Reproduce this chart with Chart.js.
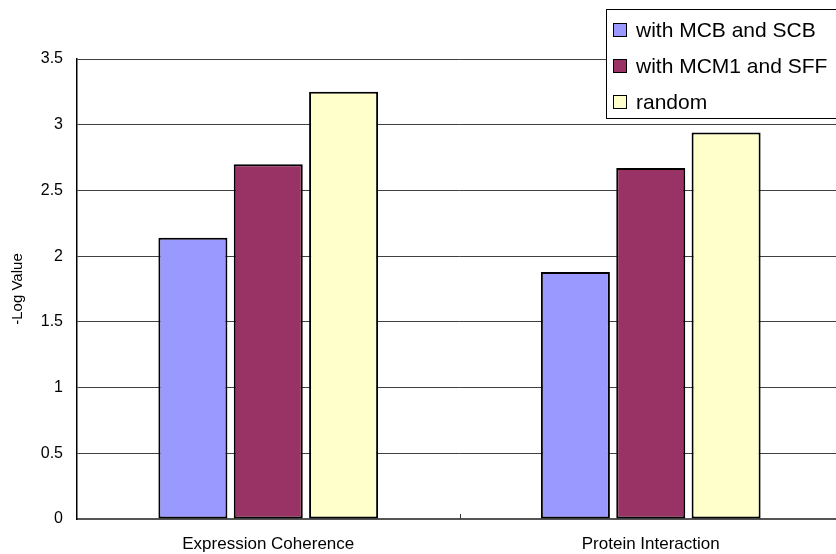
<!DOCTYPE html>
<html>
<head>
<meta charset="utf-8">
<title>-Log Value</title>
<script src="https://cdn.jsdelivr.net/npm/chart.js@4/dist/chart.umd.min.js"></script>
<style>
  html, body { margin: 0; padding: 0; background: #ffffff; overflow: hidden; }
  #wrap { position: relative; width: 850px; height: 554px; background: #ffffff; }
</style>
</head>
<body>
<div id="wrap"><canvas id="chart"></canvas></div>
<script>
// Categories, series and axis ticks
const categories = ['Expression Coherence', 'Protein Interaction'];
const seriesNames = ['with MCB and SCB', 'with MCM1 and SFF', 'random'];
const mcbScb   = [2.14, 1.88];
const mcm1Sff  = [2.70, 2.67];
const randomSet = [3.25, 2.94];
const yTickValues = [0, 0.5, 1, 1.5, 2, 2.5, 3, 3.5];

const colors = ['#9999FF', '#993366', '#FFFFCC'];
const FONT = '"Liberation Sans", Arial, sans-serif';

// Legend box drawn over the upper right of the plot, Excel style
const boxLegend = {
  id: 'boxLegend',
  afterDatasetsDraw(chart) {
    const ctx = chart.ctx;
    const left = 606, top = 9, bottom = 118;
    ctx.save();
    ctx.fillStyle = '#ffffff';
    ctx.fillRect(left, top, chart.width - left + 10, bottom - top);
    ctx.strokeStyle = '#000000';
    ctx.lineWidth = 1;
    ctx.strokeRect(left + 0.5, top + 0.5, chart.width - left + 10, bottom - top);
    ctx.font = '21px ' + FONT;
    ctx.textBaseline = 'middle';
    ctx.textAlign = 'left';
    chart.data.datasets.forEach((ds, i) => {
      const cy = 30 + i * 36;
      ctx.fillStyle = ds.backgroundColor;
      ctx.fillRect(613, cy - 7, 14, 14);
      ctx.strokeStyle = '#000000';
      ctx.strokeRect(613.5, cy - 6.5, 13, 13);
      ctx.fillStyle = '#000000';
      ctx.fillText(ds.label, 636, cy + 1);
    });
    ctx.restore();
  }
};

// Small upward tick marks on the category axis between groups
const categoryTicks = {
  id: 'categoryTicks',
  afterDraw(chart) {
    const x = chart.scales.x;
    const ctx = chart.ctx;
    const step = x.getPixelForValue(1) - x.getPixelForValue(0);
    ctx.save();
    ctx.strokeStyle = '#333333';
    ctx.lineWidth = 1;
    for (let i = 0; i < categories.length - 1; i++) {
      const px = Math.round(x.getPixelForValue(i) + step / 2) + 0.5;
      ctx.beginPath();
      ctx.moveTo(px, x.top);
      ctx.lineTo(px, x.top - 5);
      ctx.stroke();
    }
    ctx.restore();
  }
};

const seriesValues = [mcbScb, mcm1Sff, randomSet];

new Chart(document.getElementById('chart'), {
  type: 'bar',
  data: {
    labels: categories,
    datasets: seriesNames.map((name, i) => ({
      label: name,
      data: seriesValues[i],
      backgroundColor: colors[i],
      borderColor: '#000000',
      borderWidth: 2,
      borderSkipped: false,
      categoryPercentage: 0.591,
      barPercentage: 0.916
    }))
  },
  options: {
    responsive: true,
    maintainAspectRatio: false,
    animation: false,
    devicePixelRatio: 1,
    layout: { padding: { top: 59, right: 8, left: 0, bottom: 0 } },
    plugins: {
      legend: { display: false },
      tooltip: { enabled: false },
      title: { display: false }
    },
    scales: {
      x: {
        afterFit(scale) { scale.height = 35; },
        grid: { display: false, drawTicks: false },
        border: { display: true, color: '#555555', width: 2 },
        ticks: {
          color: '#000000',
          font: { family: FONT, size: 17 },
          padding: 15,
          maxRotation: 0
        }
      },
      y: {
        min: 0,
        max: 3.5,
        afterFit(scale) { scale.width = 77; },
        afterBuildTicks(scale) { scale.ticks = yTickValues.map(v => ({ value: v })); },
        grid: { color: '#404040', lineWidth: 1, drawTicks: false },
        border: { display: true, color: '#000000', width: 1.5 },
        ticks: {
          color: '#000000',
          font: { family: FONT, size: 16 },
          padding: 14,
          callback: (v) => String(v)
        },
        title: {
          display: true,
          text: '-Log Value',
          color: '#000000',
          font: { family: FONT, size: 15 },
          padding: { top: 9, bottom: 0 }
        }
      }
    }
  },
  plugins: [boxLegend, categoryTicks]
});
</script>
</body>
</html>
